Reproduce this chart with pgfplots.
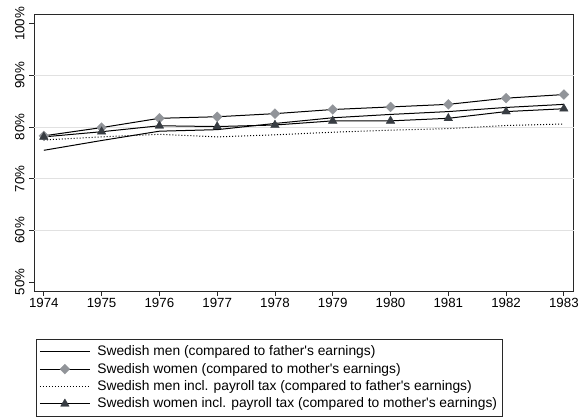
\documentclass[border=0pt]{standalone}
\usepackage{pgfplots}
\pgfplotsset{compat=1.18}
\usepackage{fontspec}
\setmainfont{Liberation Sans}[Ligatures=TeXOff]
\definecolor{diam}{RGB}{145,148,153}
\definecolor{tri}{RGB}{55,60,66}
\definecolor{gridc}{RGB}{225,225,225}
\definecolor{axc}{RGB}{40,40,40}
\begin{document}
\fontsize{13bp}{15.6bp}\selectfont
\begin{tikzpicture}
\useasboundingbox (-34bp,-128bp) rectangle (548bp,291bp);
\begin{axis}[
  at={(0,0)}, anchor=south west,
  scale only axis, width=539.7bp, height=277bp,
  xmin=1973.83, xmax=1983.17, ymin=48.25, ymax=101.9,
  xtick={1974,1975,...,1983},
  xticklabel style={/pgf/number format/1000 sep=},
  ytick={50,100}, yticklabels={50\%,100\%},
  extra y ticks={60,70,80,90},
  extra y tick labels={60\%,70\%,80\%,90\%},
  extra y tick style={grid=major},
  grid style={gridc, line width=1.1bp},
  yticklabel style={rotate=90, anchor=south, font=\fontsize{13.3bp}{15bp}\selectfont},
  xticklabel style={font=\fontsize{13.3bp}{15bp}\selectfont, yshift=2bp},
  /pgf/number format/assume math mode=true,
  tick align=outside, tick pos=left,
  major tick length=5bp,
  axis line style={axc, line width=0.9bp},
  every tick/.style={axc, line width=0.9bp},
  legend style={at={(0.0037,-0.172)}, anchor=north west, draw=axc, line width=0.8bp,
    font=\fontsize{13.8bp}{15bp}\selectfont, row sep=1.4bp, inner xsep=3bp, inner ysep=4.8bp,
    /tikz/every odd column/.append style={column sep=5bp}},
  legend cell align=left,
  legend image code/.code={\draw[#1] plot coordinates {(0bp,0bp) (25bp,0bp) (50bp,0bp)};},
  legend image post style={mark repeat=2, mark phase=2},
]
\addplot[black, line width=1bp] coordinates {
(1974,75.5) (1975,77.4) (1976,79.2) (1977,79.5) (1978,80.7) (1979,81.8) (1980,82.45) (1981,83.0) (1982,83.8) (1983,84.4)};
\addlegendentry{Swedish men (compared to father's earnings)}
\addplot[black, line width=1bp, mark=square*, mark size=3.5bp,
  mark options={diam, draw=diam, rotate=45, line width=0.3bp}] coordinates {
(1974,78.3) (1975,79.9) (1976,81.7) (1977,82.0) (1978,82.6) (1979,83.4) (1980,83.9) (1981,84.4) (1982,85.6) (1983,86.3)};
\addlegendentry{Swedish women (compared to mother's earnings)}
\addplot[black, line width=1bp, dotted] coordinates {
(1974,77.5) (1975,78.1) (1976,78.6) (1977,78.1) (1978,78.5) (1979,79.0) (1980,79.4) (1981,79.7) (1982,80.3) (1983,80.6)};
\addlegendentry{Swedish men incl. payroll tax (compared to father's earnings)}
\addplot[black, line width=1bp, mark=triangle*, mark size=5bp,
  mark options={tri, draw=tri, solid, line width=0.3bp}] coordinates {
(1974,78.1) (1975,79.1) (1976,80.25) (1977,80.1) (1978,80.4) (1979,81.2) (1980,81.2) (1981,81.7) (1982,83.0) (1983,83.55)};
\addlegendentry{Swedish women incl. payroll tax (compared to mother's earnings)}
\end{axis}
\end{tikzpicture}
\end{document}
